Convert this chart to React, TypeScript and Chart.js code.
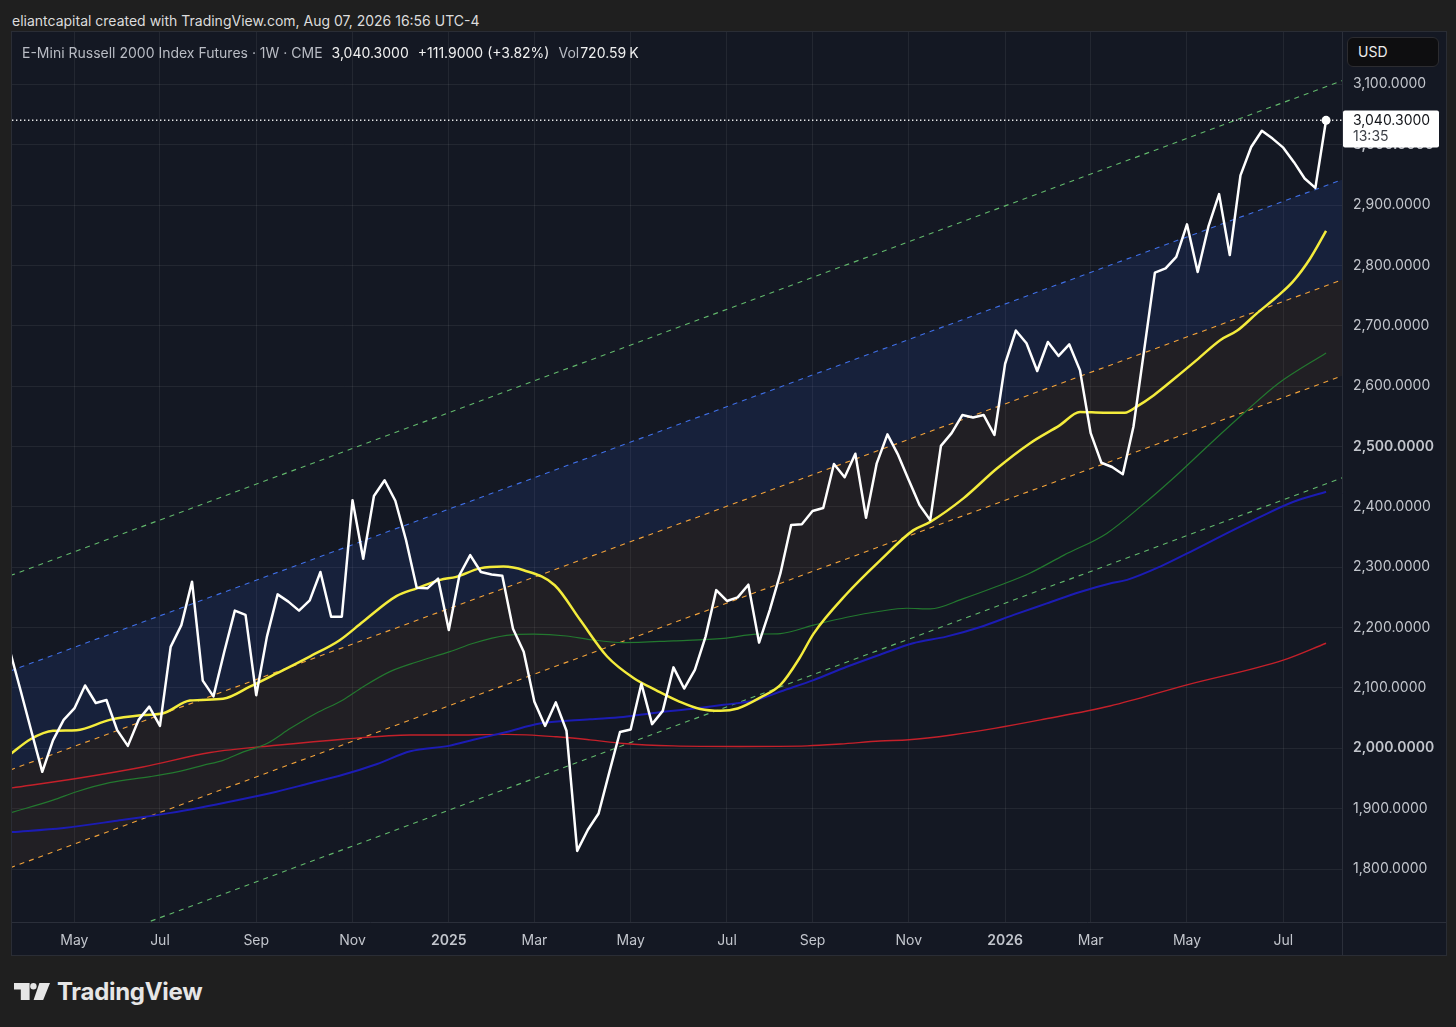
import React, { useEffect, useRef } from 'react';
import { Chart, registerables } from 'chart.js';

Chart.register(...registerables);

const FONT = 'Inter, "Noto Sans", Roboto, sans-serif';

// ---- header / legend text ----
const headerText = 'eliantcapital created with TradingView.com, Aug 07, 2026 16:56 UTC-4';
const instrumentText = 'E-Mini Russell 2000 Index Futures · 1W · CME';
const lastCloseText = '3,040.3000';
const changeText = '+111.9000 (+3.82%)';
const volumeText = '720.59';
const volumeUnit = 'K';
const priceTimer = '13:35';

// ---- weekly closes (bar index 0 = week of 25 Mar 2024) ----
const closes = [
  2160, 2094, 2027, 1961, 2013, 2047, 2066, 2104, 2075, 2080,
  2030, 2004, 2047, 2069, 2037, 2168, 2204, 2276, 2112, 2086,
  2159, 2228, 2221, 2088, 2185, 2255, 2243, 2228, 2245, 2292,
  2218, 2218, 2411, 2314, 2418, 2444, 2410, 2345, 2266, 2265,
  2281, 2196, 2287, 2320, 2292, 2288, 2286, 2198, 2160, 2077,
  2037, 2076, 2029, 1830, 1865, 1892, 1960, 2027, 2031, 2107,
  2040, 2062, 2134, 2099, 2130, 2185, 2262, 2244, 2250, 2271,
  2175, 2229, 2290, 2370, 2371, 2393, 2398, 2471, 2449, 2488,
  2382, 2472, 2520, 2486, 2444, 2403, 2378, 2501, 2522, 2552,
  2548, 2552, 2519, 2637, 2692, 2671, 2625, 2673, 2650, 2669,
  2626, 2522, 2473, 2466, 2454, 2533, 2660, 2788, 2795, 2814,
  2868, 2789, 2864, 2918, 2817, 2949, 2996, 3023, 3010, 2995,
  2971, 2944, 2928.4, 3040.3,
];
const lastClose = 3040.3;

// ---- moving averages (bar index, value) ----
const yellowWeeks = [0, 1.9, 4, 6.2, 9.3, 12.4, 14.3, 16.8, 19.9, 22.4, 24.9, 28, 30.8, 33, 36.1, 38, 40.2, 41.7, 43.9, 46.1, 48, 50.9, 53.3, 55.8, 58.3, 60.4, 62.6, 64.5, 66.4, 68, 70.1, 72, 73.8, 75.1, 78.2, 81.3, 84.4, 86, 89.1, 92.2, 95.3, 98.1, 100, 102.2, 104.2, 105.3, 106.9, 109, 110.9, 113.1, 114.7, 116.5, 118.4, 119.9, 121.5, 123];
const yellowValues = [1990, 2015, 2029, 2030, 2047, 2055, 2058, 2079, 2082, 2102, 2124, 2152, 2179, 2210, 2252, 2265, 2279, 2284, 2298, 2301, 2295, 2270, 2212, 2152, 2116, 2096, 2077, 2065, 2062, 2066, 2084, 2105, 2150, 2190, 2256, 2311, 2361, 2375, 2414, 2463, 2505, 2535, 2557, 2556, 2556, 2566, 2585, 2615, 2643, 2676, 2692, 2720, 2748, 2773, 2811, 2857];

const greenWeeks = [0, 4, 6.2, 9.3, 13.1, 15.6, 18.1, 19.9, 21.8, 24, 26.2, 28.6, 31.1, 33, 35.5, 38, 41.1, 43.3, 46.4, 48.9, 52, 54.2, 57.3, 62, 66.7, 69.8, 72, 75.1, 78.2, 81.3, 83.8, 86, 89.1, 92.2, 95.3, 98.5, 102.5, 105.9, 109, 112.2, 115.3, 118.5, 123];
const greenValues = [1893, 1914, 1928, 1943, 1953, 1961, 1972, 1980, 1994, 2008, 2033, 2058, 2080, 2102, 2127, 2143, 2160, 2174, 2187, 2189, 2186, 2180, 2175, 2178, 2182, 2189, 2190, 2204, 2217, 2227, 2232, 2231, 2248, 2268, 2290, 2320, 2356, 2404, 2452, 2505, 2555, 2604, 2655];

const navyWeeks = [0, 5, 10, 15, 21.2, 24.9, 28, 31.1, 34.3, 37.4, 41, 43.3, 46.4, 49.5, 54.2, 57.3, 60.4, 63.6, 66.7, 69.8, 72, 75.1, 78.2, 81.3, 84.4, 87.5, 90.7, 93.8, 96.9, 100, 102.8, 104.4, 107.5, 110.6, 113.7, 116.8, 119.9, 123];
const navyValues = [1861, 1868, 1880, 1893, 1914, 1928, 1942, 1956, 1974, 1995, 2004, 2014, 2027, 2041, 2048, 2052, 2059, 2065, 2072, 2080, 2094, 2113, 2135, 2155, 2174, 2185, 2201, 2221, 2240, 2259, 2273, 2279, 2301, 2328, 2356, 2383, 2408, 2425];

const redWeeks = [0, 6.2, 12.4, 18.7, 24.9, 31.1, 37.4, 41, 46.4, 51.1, 54.2, 57.3, 62, 68.2, 74.5, 77.6, 81.3, 84, 88, 92, 96.3, 102.8, 110, 119, 123];
const redValues = [1934, 1950, 1969, 1993, 2005, 2015, 2022, 2022, 2023, 2019, 2014, 2008, 2004, 2003, 2004, 2007, 2012, 2014, 2022, 2033, 2047, 2070, 2105, 2146, 2174];

// ---- regression channel (value at both ends) ----
const channelWeeks = [0, 124.5];
const channelGreenUpper = [2286, 3106];
const channelBlue = [2128, 2942];
const channelOrangeUpper = [1964, 2776];
const channelOrangeLower = [1802, 2617];
const channelGreenLower = [1627, 2448];

// ---- axes ----
const xMin = 0.17;
const xMax = 124.49;
const yMin = 1712.2;
const yMax = 3186.6;
const priceTicks = [1800, 1900, 2000, 2100, 2200, 2300, 2400, 2500, 2600, 2700, 2800, 2900, 3000, 3100];
const timeTickWeeks = [6, 14, 23, 32, 41, 49, 58, 67, 75, 84, 93, 101, 110, 119];
const timeTickLabels = ['May', 'Jul', 'Sep', 'Nov', '2025', 'Mar', 'May', 'Jul', 'Sep', 'Nov', '2026', 'Mar', 'May', 'Jul'];

const PANEL = '#141823';
const GRID = 'rgba(255,255,255,0.065)';
const SEP = '#2b2f3a';
const AXIS_TEXT = '#c3c6cd';

const pts = (xs: number[], ys: number[]) => xs.map((x, i) => ({ x, y: ys[i] }));

const fmtPrice = (v: number) =>
  v.toLocaleString('en-US', { minimumFractionDigits: 4, maximumFractionDigits: 4 });

const overlayPlugin = {
  id: 'tvOverlay',
  beforeDraw(chart: any) {
    const ctx = chart.ctx;
    ctx.save();
    ctx.fillStyle = PANEL;
    ctx.fillRect(0, 0, chart.width, chart.height);
    ctx.restore();
  },
  afterDatasetsDraw(chart: any) {
    const ctx = chart.ctx;
    const { left, right } = chart.chartArea;
    const y = chart.scales.y.getPixelForValue(lastClose);
    ctx.save();
    ctx.strokeStyle = 'rgba(255,255,255,0.9)';
    ctx.lineWidth = 1.4;
    ctx.setLineDash([1.4, 2.6]);
    ctx.beginPath();
    ctx.moveTo(left, y);
    ctx.lineTo(right, y);
    ctx.stroke();
    ctx.restore();
  },
  afterDraw(chart: any) {
    const ctx = chart.ctx;
    const { right, bottom } = chart.chartArea;
    ctx.save();
    ctx.strokeStyle = SEP;
    ctx.lineWidth = 1;
    ctx.beginPath();
    ctx.moveTo(Math.round(right) + 0.5, 0);
    ctx.lineTo(Math.round(right) + 0.5, chart.height);
    ctx.moveTo(0, Math.round(bottom) + 0.5);
    ctx.lineTo(chart.width, Math.round(bottom) + 0.5);
    ctx.stroke();

    // last price label
    const y = chart.scales.y.getPixelForValue(lastClose);
    const bx = right + 1;
    const by = y - 9.8;
    ctx.fillStyle = '#ffffff';
    ctx.beginPath();
    if ((ctx as any).roundRect) (ctx as any).roundRect(bx, by, 96, 37, 2);
    else ctx.rect(bx, by, 96, 37);
    ctx.fill();
    ctx.textBaseline = 'middle';
    ctx.textAlign = 'left';
    ctx.font = `14px ${FONT}`;
    ctx.fillStyle = '#111318';
    ctx.fillText(lastCloseText, right + 11, y + 0.5);
    ctx.fillStyle = '#3c3f46';
    ctx.fillText(priceTimer, right + 11, y + 16.5);
    ctx.restore();
  },
};

export default function App() {
  const ref = useRef<HTMLCanvasElement>(null);

  useEffect(() => {
    const canvas = ref.current;
    if (!canvas) return;
    const lastIdx = closes.length - 1;
    const dashed = (color: string, ys: number[], fill: any = false, bg = 'transparent') => ({
      data: pts(channelWeeks, ys),
      borderColor: color,
      borderWidth: 1.1,
      borderDash: [5, 5],
      pointRadius: 0,
      fill,
      backgroundColor: bg,
      clip: 0,
    });
    const chart = new Chart(canvas, {
      type: 'line',
      data: {
        datasets: [
          {
            data: closes.map((v, i) => ({ x: i, y: v })),
            borderColor: '#ffffff',
            borderWidth: 2.5,
            borderJoinStyle: 'round',
            pointRadius: (c: any) => (c.dataIndex === lastIdx ? 4.5 : 0),
            pointBackgroundColor: '#ffffff',
            pointBorderWidth: 0,
            fill: false,
            clip: 0,
          } as any,
          {
            data: pts(yellowWeeks, yellowValues),
            borderColor: '#f4ec3c',
            borderWidth: 2.5,
            cubicInterpolationMode: 'monotone',
            pointRadius: 0,
            fill: false,
            clip: 0,
          },
          {
            data: pts(greenWeeks, greenValues),
            borderColor: '#23782f',
            borderWidth: 1.2,
            cubicInterpolationMode: 'monotone',
            pointRadius: 0,
            fill: false,
            clip: 0,
          },
          {
            data: pts(navyWeeks, navyValues),
            borderColor: '#1c1cb4',
            borderWidth: 2,
            cubicInterpolationMode: 'monotone',
            pointRadius: 0,
            fill: false,
            clip: 0,
          },
          {
            data: pts(redWeeks, redValues),
            borderColor: '#c4202a',
            borderWidth: 1.4,
            cubicInterpolationMode: 'monotone',
            pointRadius: 0,
            fill: false,
            clip: 0,
          },
          dashed('#62b86c', channelGreenUpper),
          dashed('#3f6fe6', channelBlue, { target: 7 }, 'rgba(45,80,185,0.16)'),
          dashed('#f2a23a', channelOrangeUpper, { target: 8 }, 'rgba(125,85,45,0.13)'),
          dashed('#f2a23a', channelOrangeLower),
          dashed('#62b86c', channelGreenLower),
        ] as any,
      },
      options: {
        responsive: false,
        animation: false,
        events: [],
        layout: { padding: 0, autoPadding: false },
        plugins: {
          legend: { display: false },
          tooltip: { enabled: false },
          filler: { drawTime: 'beforeDatasetsDraw' },
        } as any,
        scales: {
          x: {
            type: 'linear',
            min: xMin,
            max: xMax,
            afterBuildTicks: (s: any) => {
              s.ticks = timeTickWeeks.map((v) => ({ value: v }));
            },
            afterFit: (s: any) => {
              s.height = 33;
              s.paddingLeft = 0;
              s.paddingRight = 0;
              s.paddingTop = 0;
              s.paddingBottom = 0;
            },
            grid: { color: GRID, drawTicks: false, lineWidth: 1 },
            border: { display: false },
            ticks: {
              autoSkip: false,
              maxRotation: 0,
              padding: 10,
              color: AXIS_TEXT,
              font: (c: any) => ({
                family: FONT,
                size: 14,
                weight: /^\d{4}$/.test(timeTickLabels[c.index] || '') ? '600' : '400',
              }),
              callback: (_v: any, i: number) => timeTickLabels[i],
            },
          },
          y: {
            type: 'linear',
            position: 'right',
            min: yMin,
            max: yMax,
            afterBuildTicks: (s: any) => {
              s.ticks = priceTicks.map((v) => ({ value: v }));
            },
            afterFit: (s: any) => {
              s.width = 104;
              s.paddingTop = 0;
              s.paddingBottom = 0;
              s.paddingLeft = 0;
              s.paddingRight = 0;
            },
            grid: { color: GRID, drawTicks: false, lineWidth: 1 },
            border: { display: false },
            ticks: {
              padding: 11,
              color: AXIS_TEXT,
              font: (c: any) => ({
                family: FONT,
                size: 14,
                weight: c.tick && c.tick.value % 500 === 0 ? '600' : '400',
              }),
              callback: (v: any) => fmtPrice(Number(v)),
            },
          },
        },
      } as any,
      plugins: [overlayPlugin],
    });
    return () => chart.destroy();
  }, []);

  return (
    <div
      style={{
        position: 'fixed',
        left: 0,
        top: 0,
        width: 1456,
        height: 1027,
        background: '#1f1f1f',
        overflow: 'hidden',
        fontFamily: FONT,
      }}
    >
      <div
        style={{
          position: 'absolute',
          left: 12,
          top: 11,
          lineHeight: '20px',
          fontSize: 14,
          color: '#dcdcdc',
          whiteSpace: 'nowrap',
        }}
      >
        {headerText}
      </div>
      <div
        style={{
          position: 'absolute',
          left: 11,
          top: 31,
          width: 1434,
          height: 923,
          border: '1px solid #2a2d35',
        }}
      >
        <canvas ref={ref} width={1434} height={923} style={{ display: 'block', width: 1434, height: 923 }} />
      </div>
      <div
        style={{
          position: 'absolute',
          left: 22,
          top: 43,
          lineHeight: '20px',
          fontSize: 14,
          whiteSpace: 'nowrap',
          color: '#b9bcc4',
        }}
      >
        <span>{instrumentText}</span>
        <span style={{ color: '#f0f0f0', marginLeft: 9 }}>{lastCloseText}</span>
        <span style={{ color: '#f0f0f0', marginLeft: 9 }}>{changeText}</span>
        <span style={{ marginLeft: 9 }}>Vol</span>
        <span style={{ color: '#f0f0f0', marginLeft: 1 }}>{volumeText}</span>
        <span style={{ color: '#f0f0f0', marginLeft: 3 }}>{volumeUnit}</span>
      </div>
      <div
        style={{
          position: 'absolute',
          left: 1347,
          top: 37,
          width: 92,
          height: 30,
          boxSizing: 'border-box',
          borderRadius: 6,
          background: '#0e0e10',
          border: '1px solid #2c2c30',
          color: '#ececec',
          fontSize: 14,
          lineHeight: '28px',
          paddingLeft: 10,
        }}
      >
        USD
      </div>
      <svg
        style={{ position: 'absolute', left: 0, top: 970 }}
        width={60}
        height={45}
        viewBox="0 970 60 45"
      >
        <path d="M14 983 H29.6 V1000 H20.8 V989.6 H14 Z" fill="#e6e6e6" />
        <circle cx={33.4} cy={986.3} r={3.2} fill="#e6e6e6" />
        <path d="M39.4 983 H50 L43.2 1000 H33.6 Z" fill="#e6e6e6" />
      </svg>
      <div
        style={{
          position: 'absolute',
          left: 57,
          top: 977,
          lineHeight: '30px',
          fontSize: 24,
          fontWeight: 700,
          color: '#e6e6e6',
          letterSpacing: -0.3,
        }}
      >
        TradingView
      </div>
    </div>
  );
}
